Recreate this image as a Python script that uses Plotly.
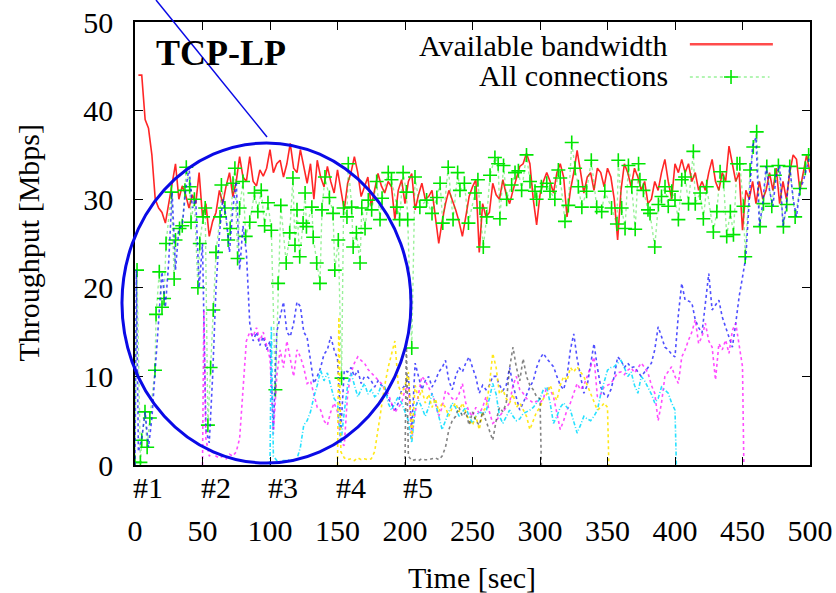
import numpy as np
import plotly.graph_objects as go

# ---------------- data ----------------
# Available bandwidth, t = 2.5 .. 500 step 2.5
bw = [
    44, 44, 39, 38, 35, 30, 29, 28.5, 27.3, 29.5,
    31.5, 34, 30, 31.5, 30.5, 29, 30.5, 29.5, 33, 28,
    29.5, 25.8, 27.5, 28.5, 31, 29.5, 31.5, 33, 30.3, 32,
    34.8, 32.5, 32, 34.8, 32, 31.5, 33.3, 32.6, 33.5, 35.6,
    33, 34, 34.4, 32.5, 34, 36.3, 33.5, 33, 35.6, 33.5,
    31.8, 34, 30, 34.4, 32.5, 31.4, 33.7, 32, 30.7, 33.3,
    31, 28.8, 31.8, 33, 34.8, 33, 30.3, 31.5, 32.5, 29.2,
    31, 32.9, 31.5, 30.7, 32, 31.4, 27.7, 31, 32.2, 29.5,
    32, 32.9, 28.8, 30.5, 31.8, 30, 30.3, 31, 28, 25,
    27.5, 29.5, 31, 30, 28.8, 27.5, 25.8, 28, 30.3, 31.4,
    32.2, 24, 29.5, 28, 28.5, 31.8, 30.5, 30, 32.2, 30.5,
    29.5, 31, 32.5, 33.7, 34, 35.2, 34, 30, 27.1, 30.5,
    32, 33, 32, 30.7, 33, 34, 32.5, 28, 31, 33,
    35.5, 33, 30.7, 32.5, 33, 31, 33.5, 33, 31.4, 33.5,
    32.5, 30, 25.4, 31, 34, 33, 31.4, 33.5, 32.5, 31,
    32, 29.5, 30, 32, 31, 33, 34.5, 32, 30, 34,
    33, 34.5, 33, 34, 32, 33, 31, 32, 31, 33,
    34.5, 32, 31, 33, 32, 36, 34, 32, 33, 26.5,
    31, 30, 32, 29.5, 32, 30, 31, 33, 31, 33.5,
    29.5, 32, 30, 33, 35, 34.5, 31, 33, 35, 33,
]
bw_t = [2.5 * (i + 1) for i in range(200)]

# All connections (sampled points)
all_t = [
    0, 1.5, 4, 5, 7.4, 9, 11, 14.8, 15.6, 18,
    20, 21.5, 23, 27, 29, 30, 33, 35, 37, 38,
    40.5, 41.5, 44, 46.6, 48, 50.4, 52, 54, 56, 58,
    60, 63, 64, 66.6, 69, 70.5, 72.6, 74, 76, 77.5,
    80, 82, 85, 88.5, 91, 93.5, 96, 98.5, 101, 104,
    106, 108, 112, 114.6, 117, 118.5, 120, 122, 124.5, 126,
    127, 131, 132, 134.6, 137, 138.5, 140.7, 144, 146.7, 148,
    150.6, 153, 154.5, 157, 158, 160.5, 161.6, 164, 166.7, 168,
    170.4, 172.8, 175.3, 179, 181.5, 183, 187.6, 190, 194, 196,
    198.6, 201, 202, 205, 207.4, 211, 216, 220, 223.6, 226,
    228, 232, 235.6, 239, 240.7, 244, 247, 251.8, 254, 255.5,
    258, 260.5, 263, 266.6, 269, 270.3, 273, 275.3, 279, 281.5,
    284, 286.4, 290, 292.6, 296.3, 297.5, 301, 305, 307.4, 311,
    313.6, 315, 318.5, 321, 323.5, 326, 328.4, 331, 334.5, 338,
    342, 345.7, 348, 353, 357, 358, 360.5, 363, 365.5, 368,
    370.5, 373, 374, 376.6, 380, 381.5, 385, 387.7, 390, 392.6,
    395, 397.6, 400, 402.5, 405, 407.5, 410, 413.6, 415, 418.6,
    421, 423.5, 428.4, 431, 433.4, 436, 438.3, 441, 443.3, 446,
    448, 450.7, 452, 455.6, 458, 460.5, 463, 465.5, 468, 471.7,
    474, 476.6, 480.3, 482.8, 485, 489, 492.6, 496.5, 499,
]
all_v = [
    0.3, 22, 0.3, 2.8, 6, 2, 5.3, 10.7, 17, 21.8,
    17.8, 18.8, 25, 30.8, 21, 25.4, 26.7, 27, 31, 33.6,
    31.4, 27.4, 30, 20, 25, 28, 29, 4.5, 11, 17.5,
    24, 28, 31.6, 29, 25.4, 26.7, 31.8, 33.5, 23.3, 29,
    32, 25.8, 27.4, 30.7, 28.6, 31, 27, 29.6, 26.5, 8.5,
    20.5, 29.3, 22.8, 26.2, 32.4, 24.8, 28.8, 23.5, 27.3, 30.7,
    26.9, 29.1, 25.7, 22.8, 20.5, 28.8, 32.5, 30.2, 28.4, 22,
    25.4, 9.8, 29, 28, 34, 29.1, 24.6, 26.2, 22.8, 29,
    26.7, 29.9, 28.8, 32, 27.7, 30.1, 33, 32.2, 29.1, 27.7,
    33, 30.8, 27.7, 13.2, 32.5, 29.1, 29.9, 28.4, 30.2, 31.8,
    27.3, 33.6, 27.7, 33, 31, 31.8, 27.3, 30.7, 32.2, 29,
    24.6, 28, 32.7, 34.7, 34, 27.8, 33.8, 30, 31.6, 33,
    33.2, 31, 35, 32, 30.9, 30, 31.4, 31.8, 30.9, 30,
    33.3, 32.4, 27.5, 29.3, 36.4, 33.5, 31.4, 29.1, 30.9, 34.4,
    29.1, 28.6, 30.9, 29, 27.2, 34.4, 29, 26.7, 33.8, 31.4,
    26.6, 34, 32.2, 31, 28.8, 28.4, 24.6, 29.4, 30.3, 31.4,
    29.2, 30.9, 29.9, 27.7, 32.2, 32.5, 29.5, 35.4, 29.5, 30.7,
    27.8, 31.4, 26.3, 28.6, 33.1, 32, 25.8, 28.6, 26, 34,
    34, 29.2, 23.5, 33.3, 35.9, 37.6, 26.9, 29.5, 33.7, 29.2,
    32.7, 33.8, 26.9, 29.4, 33.7, 28, 31.2, 33.5, 35,
]

# Connection #1: start 0, runs to 500
c1_v = [0, 22,
    1.5, 3, 6, 2, 5.3, 10.7, 17, 21.8, 17.8, 23,
    30.8, 22, 26.7, 27, 31, 33.6, 29, 30, 20, 25,
    4, 2.5, 10, 20, 26, 30, 28, 24, 29, 32,
    22, 27, 24, 16, 14, 15, 13.5, 14.5, 13, 14,
    4, 15, 16.7, 18.4, 15, 14.5, 16, 18.4, 17.9, 15,
    14.4, 12, 9.2, 10, 11, 12.5, 13, 14.5, 13, 12,
    4, 10.7, 10.5, 11, 10, 10.7, 9.2, 10, 9.9, 9.5,
    8.8, 9.5, 9, 8.8, 7.5, 6.9, 6.2, 7, 8.5, 9,
    10, 4, 11.5, 10, 8.5, 9.5, 10, 8.8, 9.5, 10.5,
    11, 11.8, 9.5, 8.5, 10, 11, 10.5, 11.5, 12.2, 11,
    9.9, 8.1, 9, 8.5, 9, 10, 10, 9, 8.4, 9,
    11, 9, 7.5, 6.2, 7, 8, 8.8, 9.5, 11, 12,
    12.6, 12, 11.5, 11.1, 10, 9, 8.5, 10, 13, 14.8,
    12, 10, 8.1, 9, 11.5, 13.7, 11, 8.8, 8, 7.7,
    8.5, 10, 12.2, 11.8, 11, 11.5, 11, 11.1, 10.5, 10,
    10.5, 11, 11.5, 13, 15.6, 14.5, 13.3, 13, 12.5, 12.2,
    17, 20.5, 18.6, 18.5, 18.3, 16.4, 15.5, 14.9, 18, 21.6,
    17.5, 18, 18.6, 16.7, 15.5, 14.4, 13.3, 16, 19, 21.2,
    23.5, 30, 36, 37, 27, 29.5, 33.7, 31, 29.2, 32.7,
    33.8, 27, 29.4, 33.7, 30, 28, 31.2, 32, 33.5, 35,
]
c1_t = [0, 1] + [2.5 * (i + 1) for i in range(200)]

# Connection #2: start 50, stops 450
c2_v = [0, 17.5,
    3, 1, 1.5, 1, 0.8, 1, 0.7, 1.2, 1, 1.5,
    3, 9, 14, 15, 14.5, 15.5, 14, 15, 13.5, 12,
    3.5, 10, 13, 11, 14, 12, 10, 13, 12.2, 11,
    9.2, 9.5, 8, 6.5, 6.2, 5, 4.5, 6, 7, 6,
    2.5, 2.2, 8, 10.4, 11.5, 12.2, 11.8, 11.5, 10.8, 10.4,
    10, 9.5, 9.2, 8.5, 8.1, 7, 5.9, 6.5, 7, 8.5,
    8.8, 3, 5.9, 8, 10, 9.5, 8.8, 8, 7, 5.5,
    6.5, 8.4, 8, 7.5, 7.3, 8, 9.2, 7, 6, 5.5,
    6.5, 5.8, 6.5, 7.7, 6, 4.7, 5, 5.5, 6, 6.5,
    7, 9, 10, 8.5, 8.1, 7.5, 7.3, 7, 7.2, 7,
    7.5, 8.8, 8.5, 7.7, 6, 4, 5, 6.2, 7, 8,
    9.2, 8.5, 9, 10, 11, 12.2, 7.7, 8, 8.8, 9,
    9.2, 9.8, 10.4, 10.5, 10.2, 10.7, 11, 10.4, 11, 11.5,
    11, 10.4, 9, 8.1, 5, 7, 10, 10.5, 11.1, 10,
    9.2, 12.2, 13, 14.1, 15, 16.4, 13.7, 14.5, 16, 14,
    13.3, 9.6, 13.7, 13, 14.1, 12.6, 15.2, 16, 13.7, 11.1,
    0,
]
c2_t = [50, 51] + [52.5 + 2.5 * i for i in range(160)] + [451]

# Connection #3: start 100, stops 400
c3_v = [0, 15.6,
    1, 0.5, 0.4, 0.5, 0.5, 0.6, 0.5, 0.7, 2, 4.5,
    5, 6, 7.7, 9, 10.7, 9.5, 10.4, 9, 7.5, 7,
    2.5, 6, 9, 10.4, 9, 7.7, 8.5, 9.2, 8, 8.5,
    7.7, 8, 9, 8.8, 7, 6.2, 7, 7.7, 7, 6,
    5, 2.5, 6.5, 7.3, 6.5, 5.5, 6.5, 8.1, 7, 5.5,
    4, 5, 6, 7, 6.5, 5.5, 6, 6.5, 5.5, 4.7,
    5.5, 6, 5.8, 6, 7.5, 9.2, 8, 5.5, 4.7, 5.5,
    6.2, 5.5, 5, 5.2, 5.8, 6, 6.2, 6.5, 7, 7.5,
    8.5, 8.8, 7, 4.7, 5.5, 6.5, 7, 6.5, 6.2, 5,
    3.6, 4.5, 5.5, 5.2, 5, 5.5, 6.2, 8, 9.5, 10.7,
    11, 11.1, 11.5, 11.8, 11, 10, 10.5, 9, 8.1, 10,
    9.5, 8.8, 8, 7, 7.5, 8.8, 8.5, 8.1, 7, 6.2,
    0,
]
c3_t = [100, 101] + [102.5 + 2.5 * i for i in range(120)] + [401]

# Connection #4: start 150, stops 350
c4_v = [0, 16.7,
    1.5, 0.8, 0.6, 0.7, 0.5, 0.8, 0.6, 0.7, 0.6, 0.7,
    1.5, 4, 7, 9, 11, 12.5, 14, 9, 8, 9,
    10.5, 3, 9, 7.5, 8.5, 7, 8, 6.5, 7.5, 6,
    7, 6.5, 5.5, 6.5, 7, 6, 7, 6, 5, 4.5,
    5.5, 4, 6, 6.5, 9, 12.6, 11, 8, 8.5, 7.5,
    7, 8, 6.5, 7, 6.2, 5.5, 4, 5, 6, 6.5,
    7.5, 8, 9, 8, 7.3, 9, 10, 9.5, 11, 10.5,
    11.1, 10.5, 10, 9, 8.1, 7, 6.2, 6.5, 7, 6.5,
    0,
]
c4_t = [150, 151] + [152.5 + 2.5 * i for i in range(80)] + [351]

# Connection #5: start 200, stops 300
c5_v = [0, 14,
    1, 0.5, 0.6, 0.5, 0.7, 0.6, 0.6, 0.7, 0.8, 0.6,
    1, 2, 4, 5, 5.5, 6.5, 5.5, 6, 4.5, 6,
    5, 4.5, 6, 5, 4, 2.8, 5, 6.5, 6, 7,
    11, 13.3, 11, 9.5, 12, 10, 9, 8.5, 7.7, 7.5,
    0,
]
c5_t = [200, 201] + [202.5 + 2.5 * i for i in range(40)] + [301]

x_ticks = [0, 50, 100, 150, 200, 250, 300, 350, 400, 450, 500]
y_ticks = [0, 10, 20, 30, 40, 50]
start_labels = ["#1", "#2", "#3", "#4", "#5"]
start_times = [0, 50, 100, 150, 200]

for t, v in [(bw_t, bw), (all_t, all_v), (c1_t, c1_v), (c2_t, c2_v),
             (c3_t, c3_v), (c4_t, c4_v), (c5_t, c5_v)]:
    assert len(t) == len(v), (len(t), len(v))

# ---------------- figure ----------------
FONT = "Liberation Serif"
fig = go.Figure()

fig.add_trace(go.Scatter(x=bw_t, y=bw, mode="lines",
                         line=dict(color="rgba(255,0,0,0.85)", width=1.6),
                         showlegend=False))
fig.add_trace(go.Scatter(x=all_t, y=all_v, mode="lines+markers",
                         line=dict(color="rgba(0,220,0,0.4)", width=1.4, dash="dot"),
                         marker=dict(symbol="cross-thin", size=10, color="#00e600",
                                     line=dict(color="#00e600", width=1.6)),
                         showlegend=False))
conn_styles = [
    (c1_t, c1_v, "rgba(20,20,255,0.75)", "dot"),
    (c2_t, c2_v, "rgba(255,0,255,0.7)", "dot"),
    (c3_t, c3_v, "rgba(0,220,255,0.85)", "4px,2px,1px,2px"),
    (c4_t, c4_v, "rgba(255,230,0,0.9)", "3px,3px"),
    (c5_t, c5_v, "rgba(30,30,30,0.55)", "dot"),
]
for t, v, col, dash in conn_styles:
    fig.add_trace(go.Scatter(x=t, y=v, mode="lines",
                             line=dict(color=col, width=1.6, dash=dash),
                             showlegend=False))

# legend samples on an overlay axis in [0,1]
fig.add_trace(go.Scatter(x=[0.822, 0.945], y=[0.950, 0.950], mode="lines",
                         line=dict(color="rgba(255,0,0,0.7)", width=2.5),
                         xaxis="x2", yaxis="y2", showlegend=False))
fig.add_trace(go.Scatter(x=[0.822, 0.883, 0.940], y=[0.876, 0.876, 0.876],
                         mode="lines+markers",
                         line=dict(color="rgba(0,220,0,0.4)", width=1.4, dash="dot"),
                         marker=dict(symbol="cross-thin", size=10, color="#00e600",
                                     line=dict(color="#00e600", width=1.6),
                                     opacity=[0, 1, 0]),
                         xaxis="x2", yaxis="y2", showlegend=False))

axis_common = dict(
    showline=True, linecolor="black", linewidth=1.5, mirror="ticks",
    ticks="inside", ticklen=8, tickwidth=1.2, tickcolor="black",
    showgrid=False, zeroline=False, automargin=False,
    tickfont=dict(family=FONT, size=30, color="black"),
)
fig.update_layout(
    width=836, height=593,
    margin=dict(l=135, r=26, t=22, b=128),
    paper_bgcolor="white", plot_bgcolor="white",
    xaxis=dict(range=[0, 500], tickvals=x_ticks, ticklabelstandoff=38, **axis_common),
    yaxis=dict(range=[0, 50], tickvals=y_ticks, ticklabelstandoff=14, **axis_common),
    xaxis2=dict(overlaying="x", range=[0, 1], visible=False),
    yaxis2=dict(overlaying="y", range=[0, 1], visible=False),
    showlegend=False,
)

annotations = []
for lab, tt in zip(start_labels, start_times):
    annotations.append(dict(x=tt, y=-0.05, xref="x", yref="paper", text=lab,
                            showarrow=False, xanchor="left", yanchor="middle", xshift=-4,
                            font=dict(family=FONT, size=30, color="black")))
annotations += [
    dict(x=0.499, y=-0.253, xref="paper", yref="paper", text="Time [sec]",
         showarrow=False, xanchor="center", yanchor="middle",
         font=dict(family=FONT, size=30, color="black")),
    dict(x=-0.1585, y=0.5, xref="paper", yref="paper", text="Throughput [Mbps]",
         textangle=-90, showarrow=False, xanchor="center", yanchor="middle",
         font=dict(family=FONT, size=30, color="black")),
    dict(x=0.127, y=0.930, xref="paper", yref="paper", text="<b>TCP-LP</b>",
         showarrow=False, xanchor="center", yanchor="middle",
         font=dict(family=FONT, size=36, color="black")),
    dict(x=0.7926, y=0.948, xref="paper", yref="paper", text="Available bandwidth",
         showarrow=False, xanchor="right", yanchor="middle",
         font=dict(family=FONT, size=30, color="black")),
    dict(x=0.7926, y=0.880, xref="paper", yref="paper", text="All connections",
         showarrow=False, xanchor="right", yanchor="middle",
         font=dict(family=FONT, size=30, color="black")),
]
fig.update_layout(annotations=annotations)

fig.update_layout(shapes=[
    dict(type="circle", xref="paper", yref="paper",
         x0=-0.0193, x1=0.4089, y0=0.0045, y1=0.7269,
         line=dict(color="#0a0ae6", width=3)),
    dict(type="line", xref="paper", yref="paper",
         x0=0.0311, y0=1.0497, x1=0.1956, y1=0.7404,
         line=dict(color="#0a0ae6", width=1.5)),
])

fig.write_html("out.html", config={"displayModeBar": False},
               post_script="document.body.style.margin='0px';document.body.style.overflow='hidden';")
